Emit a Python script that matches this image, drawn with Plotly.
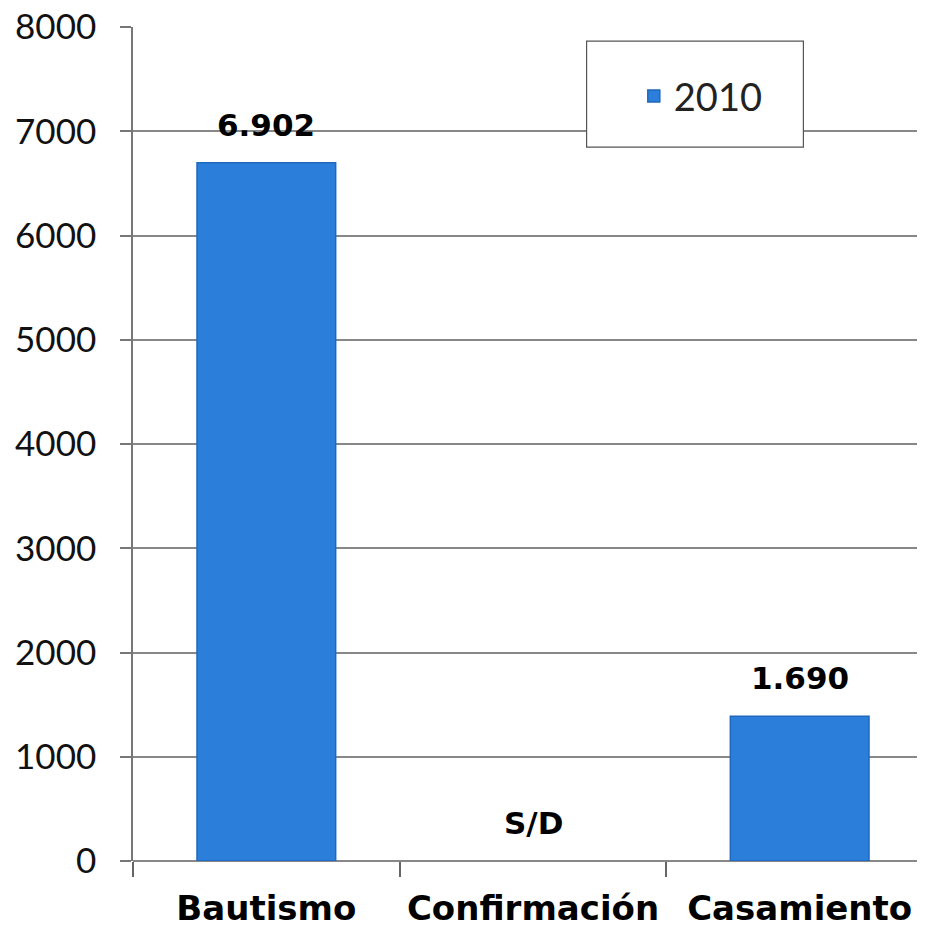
import plotly.graph_objects as go

# categories and values
categories = ['Bautismo', 'Confirmación', 'Casamiento']
bar_values = [6700, None, 1390]          # bar heights as drawn
value_labels = ['6.902', 'S/D', '1.690']  # printed labels
label_base = [6700, 0, 1390]
series_name = '2010'

fig = go.Figure()
fig.add_trace(go.Bar(x=categories, y=bar_values, name=series_name, width=0.52,
                     marker=dict(color='#2B7FDB', line=dict(color='#1F68BE', width=1.5)),
                     showlegend=True))

# value labels above bars
for cat, txt, base in zip(categories, value_labels, label_base):
    fig.add_annotation(x=cat, y=base, text=txt, showarrow=False, yanchor='bottom', yshift=18,
                       font=dict(family='DejaVu Sans', size=31, color='black', weight='bold'))

# legend box
fig.add_shape(type='rect', xref='paper', yref='paper', x0=0.567, x1=0.838, y0=0.856, y1=0.983,
              line=dict(color='#555555', width=1.2), fillcolor='white', layer='above')

# page body has an 8px margin, so margins are reduced by 8
fig.update_layout(
    width=925, height=943,
    margin=dict(l=125, r=0, t=19, b=90),
    plot_bgcolor='white', paper_bgcolor='white',
    font=dict(family='Lato', color='black'),
    legend=dict(x=0.626, y=0.917, xanchor='left', yanchor='middle', bgcolor='rgba(0,0,0,0)',
                font=dict(family='Lato', size=38, color='#222222'), itemwidth=30),
    xaxis=dict(range=[-0.5, 2.5], showline=False, ticks='outside', tickson='boundaries',
               ticklen=15, tickcolor='#666666', tickwidth=1.5, showgrid=False, automargin=False,
               tickfont=dict(family='DejaVu Sans', size=34, weight='bold', color='black'),
               ticklabelstandoff=24),
    yaxis=dict(range=[0, 8002], tickvals=list(range(0, 8001, 1000)), tickformat='d',
               showline=True, linecolor='#777777', linewidth=1.5, ticks='outside', ticklen=11,
               tickcolor='#777777', tickwidth=1.5, showgrid=True, gridcolor='#888888', gridwidth=1.5,
               zeroline=True, zerolinecolor='#888888', zerolinewidth=1.5, automargin=False,
               ticklabeloverflow='allow',
               tickfont=dict(family='Lato', size=35, color='#111111'), ticklabelstandoff=17),
)

fig.write_html('out.html')
